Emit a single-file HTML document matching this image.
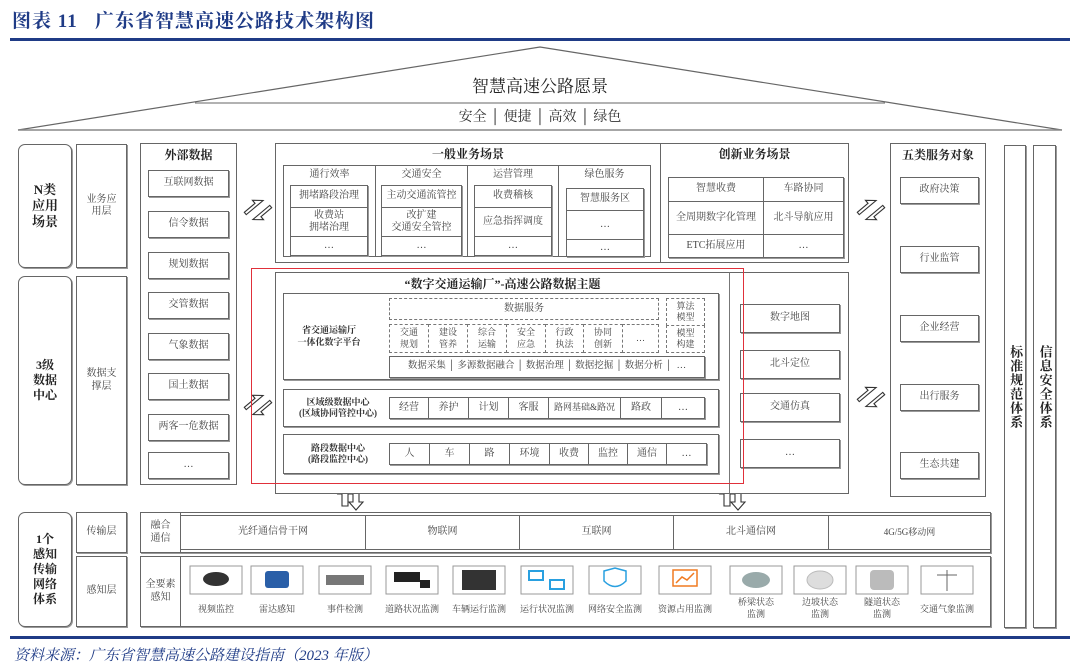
<!DOCTYPE html>
<html><head><meta charset="utf-8"><style>
*{margin:0;padding:0;box-sizing:border-box}
body{width:1080px;height:671px;background:#fff;position:relative;overflow:hidden;font-family:"Liberation Serif","Noto Serif CJK SC","Noto Sans CJK SC",serif;color:#444}
.b{position:absolute;border:1px solid #666;display:flex;align-items:center;justify-content:center;text-align:center;font-size:10px;line-height:1.25;background:#fff}
.s{box-shadow:1px 1px 0 #999}
.r{border-radius:7px}
.d{border:1px dashed #777}
.h{font-weight:bold;color:#222;font-size:12px}
.t{position:absolute;text-align:center;white-space:nowrap}
.v{writing-mode:vertical-rl;letter-spacing:2px;font-weight:bold;color:#222;font-size:13px}
</style></head><body>
<div class="t" style="left:12px;top:6px;font-size:19px;font-weight:bold;color:#1f3b86;font-family:'Liberation Serif','Noto Serif CJK SC',serif;letter-spacing:1px">图表 11&nbsp;&nbsp;&nbsp;广东省智慧高速公路技术架构图</div>
<div style="position:absolute;left:10px;top:38px;width:1060px;height:3px;background:#1f3b86"></div>

<svg style="position:absolute;left:0;top:0" width="1080" height="671">
<polyline points="18,130 540,47 1062,130" fill="none" stroke="#666" stroke-width="1.2"/>
<line x1="18" y1="130" x2="1062" y2="130" stroke="#888" stroke-width="1.5"/>
<line x1="195" y1="103" x2="885" y2="103" stroke="#666" stroke-width="1"/>
<g fill="#fff" stroke="#333" stroke-width="1.1">
<g transform="translate(258,210) rotate(-40)"><polygon points="-12,-7 2,-7 2,-11 10,-4 -12,-4" /><polygon points="12,7 -2,7 -2,11 -10,4 12,4"/></g>
<g transform="translate(258,405) rotate(-40)"><polygon points="-12,-7 2,-7 2,-11 10,-4 -12,-4" /><polygon points="12,7 -2,7 -2,11 -10,4 12,4"/></g>
<g transform="translate(871,210) rotate(-40)"><polygon points="-12,-7 2,-7 2,-11 10,-4 -12,-4" /><polygon points="12,7 -2,7 -2,11 -10,4 12,4"/></g>
<g transform="translate(871,397) rotate(-40)"><polygon points="-12,-7 2,-7 2,-11 10,-4 -12,-4" /><polygon points="12,7 -2,7 -2,11 -10,4 12,4"/></g>
<polygon points="342,506 342,494 338,494 345,486 352,494 348,494 348,506"/>
<polygon points="353,490 353,502 349,502 356,510 363,502 359,502 359,490"/>
<polygon points="724,506 724,494 720,494 727,486 734,494 730,494 730,506"/>
<polygon points="735,490 735,502 731,502 738,510 745,502 741,502 741,490"/>
</g>
</svg>
<div class="t" style="left:440px;top:72px;width:200px;font-size:17px;color:#222">智慧高速公路愿景</div>
<div class="t" style="left:400px;top:106px;width:280px;font-size:14px;color:#333">安全 │ 便捷 │ 高效 │ 绿色</div>

<!-- left column -->
<div class="b r s v" style="left:18px;top:144px;width:54px;height:124px;writing-mode:horizontal-tb;letter-spacing:0">N类<br>应用<br>场景</div>
<div class="b s" style="left:76px;top:144px;width:51px;height:124px">业务应<br>用层</div>
<div class="b r s h" style="left:18px;top:276px;width:54px;height:209px">3级<br>数据<br>中心</div>
<div class="b s" style="left:76px;top:276px;width:51px;height:209px">数据支<br>撑层</div>
<div class="b r s h" style="left:18px;top:512px;width:54px;height:115px">1个<br>感知<br>传输<br>网络<br>体系</div>
<div class="b s" style="left:76px;top:512px;width:51px;height:41px">传输层</div>
<div class="b s" style="left:76px;top:556px;width:51px;height:71px">感知层</div>

<!-- external data -->
<div class="b" style="left:140px;top:143px;width:97px;height:342px;align-items:flex-start;padding-top:4px"><span class="h">外部数据</span></div>
<div class="b s" style="left:148px;top:170px;width:81px;height:27px">互联网数据</div>
<div class="b s" style="left:148px;top:211px;width:81px;height:27px">信令数据</div>
<div class="b s" style="left:148px;top:252px;width:81px;height:27px">规划数据</div>
<div class="b s" style="left:148px;top:292px;width:81px;height:27px">交管数据</div>
<div class="b s" style="left:148px;top:333px;width:81px;height:27px">气象数据</div>
<div class="b s" style="left:148px;top:373px;width:81px;height:27px">国土数据</div>
<div class="b s" style="left:148px;top:414px;width:81px;height:27px">两客一危数据</div>
<div class="b s" style="left:148px;top:452px;width:81px;height:27px">…</div>

<!-- general business -->
<div class="b" style="left:275px;top:143px;width:386px;height:120px;align-items:flex-start;padding-top:3px"><span class="h">一般业务场景</span></div>
<div class="b" style="left:283px;top:165px;width:93px;height:92px;align-items:flex-start;padding-top:3px">通行效率</div>
<div class="b" style="left:375px;top:165px;width:93px;height:92px;align-items:flex-start;padding-top:3px">交通安全</div>
<div class="b" style="left:467px;top:165px;width:92px;height:92px;align-items:flex-start;padding-top:3px">运营管理</div>
<div class="b" style="left:558px;top:165px;width:93px;height:92px;align-items:flex-start;padding-top:3px">绿色服务</div>
<div class="b s" style="left:290px;top:185px;width:78px;height:23px">拥堵路段治理</div>
<div class="b s" style="left:290px;top:207px;width:78px;height:30px">收费站<br>拥堵治理</div>
<div class="b s" style="left:290px;top:236px;width:78px;height:20px">…</div>
<div class="b s" style="left:381px;top:185px;width:81px;height:23px">主动交通流管控</div>
<div class="b s" style="left:381px;top:207px;width:81px;height:30px">改扩建<br>交通安全管控</div>
<div class="b s" style="left:381px;top:236px;width:81px;height:20px">…</div>
<div class="b s" style="left:474px;top:185px;width:78px;height:23px">收费稽核</div>
<div class="b s" style="left:474px;top:207px;width:78px;height:30px">应急指挥调度</div>
<div class="b s" style="left:474px;top:236px;width:78px;height:20px">…</div>
<div class="b s" style="left:566px;top:188px;width:78px;height:23px">智慧服务区</div>
<div class="b s" style="left:566px;top:210px;width:78px;height:30px">…</div>
<div class="b s" style="left:566px;top:239px;width:78px;height:18px">…</div>

<!-- innovation -->
<div class="b" style="left:660px;top:143px;width:189px;height:120px;align-items:flex-start;padding-top:3px"><span class="h">创新业务场景</span></div>
<div class="b s" style="left:668px;top:177px;width:96px;height:25px">智慧收费</div>
<div class="b s" style="left:763px;top:177px;width:81px;height:25px">车路协同</div>
<div class="b s" style="left:668px;top:201px;width:96px;height:34px">全周期数字化管理</div>
<div class="b s" style="left:763px;top:201px;width:81px;height:34px">北斗导航应用</div>
<div class="b s" style="left:668px;top:234px;width:96px;height:24px">ETC拓展应用</div>
<div class="b s" style="left:763px;top:234px;width:81px;height:24px">…</div>

<!-- data section -->
<div class="b" style="left:275px;top:272px;width:574px;height:222px"></div>
<div class="b" style="left:275px;top:272px;width:455px;height:222px;border-right:1px solid #777"></div>
<div class="t" style="left:280px;top:275px;width:445px;font-size:12px;font-weight:bold;color:#222">“数字交通运输厂”-高速公路数据主题</div>
<div class="b s" style="left:283px;top:293px;width:436px;height:87px;justify-content:flex-start;padding-left:10px"><span style="font-weight:bold;font-size:9px;color:#333;width:70px">省交通运输厅<br>一体化数字平台</span></div>
<div class="b d" style="left:389px;top:298px;width:270px;height:22px">数据服务</div>
<div class="b d" style="left:666px;top:298px;width:39px;height:28px;font-size:9px">算法<br>模型</div>
<div class="b d" style="left:666px;top:325px;width:39px;height:28px;font-size:9px">模型<br>构建</div>
<div class="b d" style="left:389px;top:324px;width:40px;height:29px;font-size:9px">交通<br>规划</div>
<div class="b d" style="left:428px;top:324px;width:40px;height:29px;font-size:9px">建设<br>管养</div>
<div class="b d" style="left:467px;top:324px;width:40px;height:29px;font-size:9px">综合<br>运输</div>
<div class="b d" style="left:506px;top:324px;width:40px;height:29px;font-size:9px">安全<br>应急</div>
<div class="b d" style="left:545px;top:324px;width:39px;height:29px;font-size:9px">行政<br>执法</div>
<div class="b d" style="left:583px;top:324px;width:40px;height:29px;font-size:9px">协同<br>创新</div>
<div class="b d" style="left:622px;top:324px;width:37px;height:29px;font-size:9px">…</div>
<div class="b s" style="left:389px;top:356px;width:316px;height:22px;font-size:9.5px">数据采集 │ 多源数据融合 │ 数据治理 │ 数据挖掘 │ 数据分析 │ &nbsp;…</div>

<div class="b s" style="left:283px;top:389px;width:436px;height:38px;justify-content:flex-start;padding-left:6px"><span style="font-weight:bold;font-size:9px;color:#333;width:96px">区域级数据中心<br>(区域协同管控中心)</span></div>
<div class="b s" style="left:389px;top:397px;width:40px;height:22px">经营</div>
<div class="b s" style="left:428px;top:397px;width:41px;height:22px">养护</div>
<div class="b s" style="left:468px;top:397px;width:41px;height:22px">计划</div>
<div class="b s" style="left:508px;top:397px;width:41px;height:22px">客服</div>
<div class="b s" style="left:548px;top:397px;width:73px;height:22px;font-size:9px">路网基础&amp;路况</div>
<div class="b s" style="left:620px;top:397px;width:42px;height:22px">路政</div>
<div class="b s" style="left:661px;top:397px;width:44px;height:22px">…</div>

<div class="b s" style="left:283px;top:434px;width:436px;height:40px;justify-content:flex-start;padding-left:6px"><span style="font-weight:bold;font-size:9px;color:#333;width:96px">路段数据中心<br>(路段监控中心)</span></div>
<div class="b s" style="left:389px;top:443px;width:41px;height:22px">人</div>
<div class="b s" style="left:429px;top:443px;width:41px;height:22px">车</div>
<div class="b s" style="left:469px;top:443px;width:41px;height:22px">路</div>
<div class="b s" style="left:509px;top:443px;width:41px;height:22px">环境</div>
<div class="b s" style="left:549px;top:443px;width:40px;height:22px">收费</div>
<div class="b s" style="left:588px;top:443px;width:40px;height:22px">监控</div>
<div class="b s" style="left:627px;top:443px;width:40px;height:22px">通信</div>
<div class="b s" style="left:666px;top:443px;width:41px;height:22px">…</div>

<div class="b s" style="left:740px;top:304px;width:100px;height:29px">数字地图</div>
<div class="b s" style="left:740px;top:350px;width:100px;height:29px">北斗定位</div>
<div class="b s" style="left:740px;top:393px;width:100px;height:29px">交通仿真</div>
<div class="b s" style="left:740px;top:439px;width:100px;height:29px">…</div>

<div style="position:absolute;left:251px;top:268px;width:493px;height:216px;border:1.5px solid #e0303a"></div>

<!-- five service objects -->
<div class="b" style="left:890px;top:143px;width:96px;height:354px;align-items:flex-start;padding-top:4px"><span class="h">五类服务对象</span></div>
<div class="b s" style="left:900px;top:177px;width:79px;height:27px">政府决策</div>
<div class="b s" style="left:900px;top:246px;width:79px;height:27px">行业监管</div>
<div class="b s" style="left:900px;top:315px;width:79px;height:27px">企业经营</div>
<div class="b s" style="left:900px;top:384px;width:79px;height:27px">出行服务</div>
<div class="b s" style="left:900px;top:452px;width:79px;height:27px">生态共建</div>

<div class="b s v" style="left:1004px;top:145px;width:22px;height:483px;letter-spacing:1px">标准规范体系</div>
<div class="b s v" style="left:1033px;top:145px;width:23px;height:483px;letter-spacing:1px">信息安全体系</div>

<!-- bottom -->
<div class="b s" style="left:140px;top:512px;width:851px;height:41px"></div>
<div class="b" style="left:140px;top:512px;width:41px;height:41px">融合<br>通信</div>
<div class="b" style="left:180px;top:515px;width:186px;height:35px">光纤通信骨干网</div>
<div class="b" style="left:365px;top:515px;width:155px;height:35px">物联网</div>
<div class="b" style="left:519px;top:515px;width:155px;height:35px">互联网</div>
<div class="b" style="left:673px;top:515px;width:156px;height:35px">北斗通信网</div>
<div class="b" style="left:828px;top:515px;width:163px;height:35px;font-size:9px">4G/5G移动网</div>
<div class="b s" style="left:140px;top:556px;width:851px;height:71px"></div>
<div class="b" style="left:140px;top:556px;width:41px;height:71px">全要素<br>感知</div>

<svg style="position:absolute;left:0;top:0" width="1080" height="671">
<g stroke="#999" fill="#fff">
<rect x="190" y="566" width="52" height="28"/><rect x="251" y="566" width="52" height="28"/><rect x="319" y="566" width="52" height="28"/><rect x="386" y="566" width="52" height="28"/><rect x="453" y="566" width="52" height="28"/><rect x="521" y="566" width="52" height="28"/><rect x="589" y="566" width="52" height="28"/><rect x="659" y="566" width="52" height="28"/><rect x="730" y="566" width="52" height="28"/><rect x="794" y="566" width="52" height="28"/><rect x="856" y="566" width="52" height="28"/><rect x="921" y="566" width="52" height="28"/>
</g>
<ellipse cx="216" cy="579" rx="13" ry="7" fill="#333"/>
<rect x="265" y="571" width="24" height="17" rx="3" fill="#2a5fa8"/>
<rect x="326" y="575" width="38" height="10" fill="#777"/>
<rect x="394" y="572" width="26" height="10" fill="#222"/><rect x="420" y="580" width="10" height="8" fill="#222"/>
<rect x="462" y="570" width="34" height="20" fill="#333"/>
<g fill="none" stroke="#29a0e0" stroke-width="2"><rect x="529" y="571" width="14" height="9"/><rect x="550" y="580" width="14" height="9"/></g>
<path d="M604 571 L615 568 L626 571 L626 581 Q615 592 604 581Z" fill="none" stroke="#29a0e0" stroke-width="1.5"/>
<rect x="673" y="570" width="24" height="16" fill="none" stroke="#f07a20" stroke-width="1.5"/><polyline points="676,583 682,577 687,580 694,573" fill="none" stroke="#f07a20" stroke-width="1.5"/>
<ellipse cx="756" cy="580" rx="14" ry="8" fill="#9aa"/>
<ellipse cx="820" cy="580" rx="13" ry="9" fill="#ddd" stroke="#bbb"/>
<rect x="870" y="570" width="24" height="20" rx="4" fill="#bbb"/>
<line x1="947" y1="570" x2="947" y2="591" stroke="#666"/><line x1="937" y1="575" x2="957" y2="575" stroke="#666"/>
</svg>
<div class="t" style="left:186px;top:602px;width:60px;font-size:9px">视频监控</div>
<div class="t" style="left:247px;top:602px;width:60px;font-size:9px">雷达感知</div>
<div class="t" style="left:315px;top:602px;width:60px;font-size:9px">事件检测</div>
<div class="t" style="left:377px;top:602px;width:70px;font-size:9px">道路状况监测</div>
<div class="t" style="left:444px;top:602px;width:70px;font-size:9px">车辆运行监测</div>
<div class="t" style="left:512px;top:602px;width:70px;font-size:9px">运行状况监测</div>
<div class="t" style="left:580px;top:602px;width:70px;font-size:9px">网络安全监测</div>
<div class="t" style="left:650px;top:602px;width:70px;font-size:9px">资源占用监测</div>
<div class="t" style="left:726px;top:597px;width:60px;font-size:9px;line-height:1.3">桥梁状态<br>监测</div>
<div class="t" style="left:790px;top:597px;width:60px;font-size:9px;line-height:1.3">边坡状态<br>监测</div>
<div class="t" style="left:852px;top:597px;width:60px;font-size:9px;line-height:1.3">隧道状态<br>监测</div>
<div class="t" style="left:912px;top:602px;width:70px;font-size:9px">交通气象监测</div>

<div style="position:absolute;left:10px;top:636px;width:1060px;height:3px;background:#1f3b86"></div>
<div class="t" style="left:14px;top:644px;font-size:15px;font-style:italic;color:#1f3b86">资料来源：广东省智慧高速公路建设指南（2023 年版）</div>
</body></html>
